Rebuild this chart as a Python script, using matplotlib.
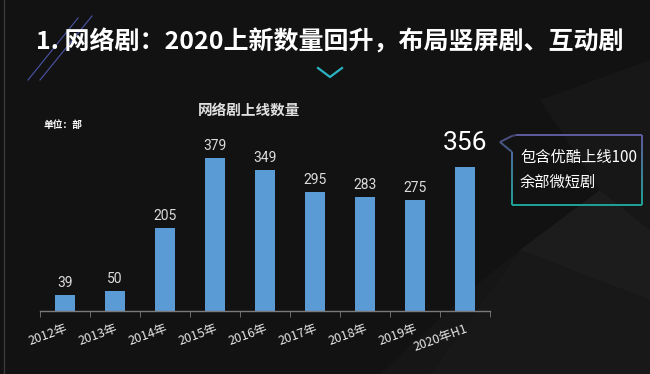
import matplotlib
matplotlib.use("Agg")
import matplotlib.pyplot as plt
import numpy as np
from matplotlib.collections import LineCollection
from matplotlib.patches import Polygon

plt.rcParams["font.family"] = ["Noto Sans CJK SC", "DejaVu Sans"]

# ---------------------------------------------------------------------------
# Data
# ---------------------------------------------------------------------------
years = ["2012年", "2013年", "2014年", "2015年", "2016年",
         "2017年", "2018年", "2019年", "2020年H1"]
counts = [39, 50, 205, 379, 349, 295, 283, 275, 356]

TITLE = "1. 网络剧：2020上新数量回升，布局竖屏剧、互动剧"
CHART_TITLE = "网络剧上线数量"
UNIT = "单位：部"
NOTE = "包含优酷上线100\n余部微短剧"

BG = "#121212"
BAR = "#5b9bd5"

W, H = 650, 374


def fx(px):
    return px / W


def fy(py):
    return 1 - py / H


fig = plt.figure(figsize=(6.5, 3.74), dpi=100, facecolor=BG)

# faint geometric background shapes on the right
bg = fig.add_axes([0, 0, 1, 1], zorder=0)
bg.set_xlim(0, W)
bg.set_ylim(H, 0)
bg.axis("off")
shapes = [
    ([(430, 374), (520, 250), (650, 300), (650, 374)], "#181818"),
    ([(520, 250), (600, 190), (650, 230), (650, 300)], "#1c1c1c"),
    ([(380, 374), (430, 374), (520, 250), (470, 290)], "#161616"),
    ([(540, 100), (650, 60), (650, 230), (600, 190)], "#171717"),
]
for pts, c in shapes:
    bg.add_patch(Polygon(pts, closed=True, facecolor=c, edgecolor="none"))
bg.plot([4, 4], [0, H], color="#3a3a3a", lw=1)
# decorative strokes top-left
bg.plot([28, 78], [80, 18], color="#4a55a8", lw=0.8)
bg.plot([40, 92], [80, 16], color="#4a55a8", lw=0.8)
# chevron
bg.plot([318, 330, 342], [68, 77, 68], color="#2bb3c4", lw=1.6)

# ---------------------------------------------------------------------------
# Bar chart
# ---------------------------------------------------------------------------
ax = fig.add_axes([fx(40), fy(311), fx(450), (311 - 100) / H], zorder=1)
ax.set_facecolor("none")
x = np.arange(len(years))
ax.bar(x, counts, width=0.4, color=BAR, zorder=2)
ax.set_xlim(-0.5, len(years) - 0.5)
ax.set_ylim(0, 522)

for i, v in enumerate(counts):
    if i == len(counts) - 1:
        ax.text(i, v + 30, str(v), ha="center", va="bottom",
                color="white", fontsize=19, family="Roboto")
    else:
        ax.text(i, v + 12, str(v), ha="center", va="bottom",
                color="#dcdcdc", fontsize=10, family="Roboto")

for s in ["top", "right", "left"]:
    ax.spines[s].set_visible(False)
ax.spines["bottom"].set_color("#7a7a7a")
ax.spines["bottom"].set_linewidth(1)
ax.set_yticks([])
ax.set_xticks(x)
ax.set_xticklabels(years, rotation=20, ha="right", rotation_mode="anchor",
                   color="#e6e6e6", fontsize=9)
ax.tick_params(axis="x", which="major", length=0, pad=8)
ax.set_xticks(np.arange(-0.5, len(years)), minor=True)
ax.tick_params(axis="x", which="minor", length=4, color="#7a7a7a",
               direction="out")

# ---------------------------------------------------------------------------
# Texts
# ---------------------------------------------------------------------------
fig.text(fx(330), fy(42), TITLE, ha="center", va="center",
         color="white", fontsize=18, fontweight="bold")
fig.text(fx(249), fy(110), CHART_TITLE, ha="center", va="center",
         color="#e0e0e0", fontsize=10.5, fontweight="bold")
fig.text(fx(43), fy(125), UNIT, ha="left", va="center",
         color="white", fontsize=7, fontweight="bold")

# callout box with gradient border
path = np.array([(516, 135), (642, 135), (642, 205), (512, 205),
                 (512, 152), (500, 142), (512, 136), (516, 135)], float)
segs, cols = [], []
top_c = np.array([0.37, 0.36, 0.62])
bot_c = np.array([0.12, 0.64, 0.60])
for a, b in zip(path[:-1], path[1:]):
    n = 20
    for t0, t1 in zip(np.linspace(0, 1, n)[:-1], np.linspace(0, 1, n)[1:]):
        p0 = a + (b - a) * t0
        p1 = a + (b - a) * t1
        segs.append([p0, p1])
        k = ((p0[1] + p1[1]) / 2 - 135) / 70
        cols.append(tuple(top_c + (bot_c - top_c) * np.clip(k, 0, 1)))
bg.add_collection(LineCollection(segs, colors=cols, linewidths=1.4))
fig.text(fx(520), fy(170), NOTE, ha="left", va="center", color="white",
         fontsize=11, linespacing=1.6)

fig.savefig("out.png", dpi=100, facecolor=BG)
